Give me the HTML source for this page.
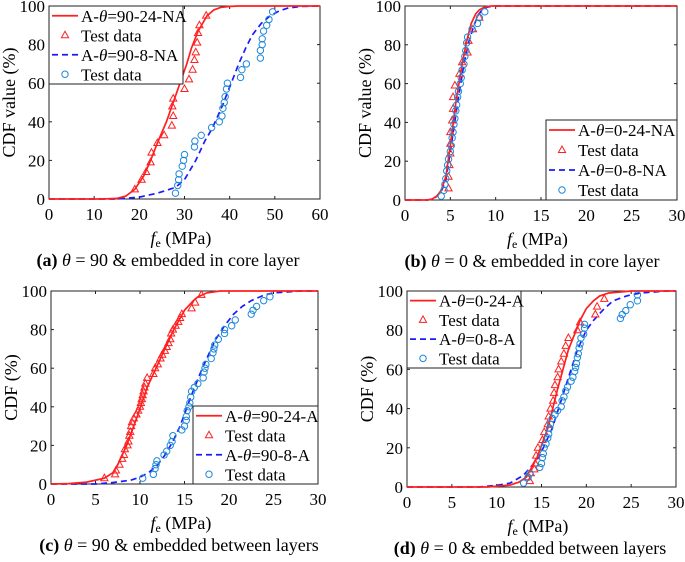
<!DOCTYPE html>
<html><head><meta charset="utf-8"><style>
body{margin:0;background:#fff;width:685px;height:557px;overflow:hidden;font-family:"Liberation Serif","Times New Roman",Times,serif}
svg, svg text, svg tspan{font-family:"Liberation Serif","Times New Roman",Times,serif}
svg text{fill:#000}
</style></head><body>
<svg id="c" width="685" height="557" font-family="'Liberation Serif', 'Times New Roman', Times, serif" xmlns="http://www.w3.org/2000/svg"></svg>
<script>
// ---- Panel (a) data ----
const aRedCurveX=[0,12,15,17,19,21,22.5,24,26,27.5,29,30.5,31.5,33,35,36.5,38,40,42,60];
const aRedCurveY=[0,0,0.3,1.5,5,12,20,29,40,50,60,70,78,87,95,98,99.3,99.8,100,100];
const aBlueCurveX=[0,15,20,24,28,30,31,32.5,34.5,36,37,38.5,39.5,41,42,43.5,45,47,49,51,53,56,60];
const aBlueCurveY=[0,0,1,3,6,10,14,20,30,36,41,49,55,64,70,78,85,91,95,97.5,99,99.8,100];
const aTriX=[19,20.5,21.5,22.5,22.7,24,25.5,27.2,27.5,27.3,27.5,30,31,31.8,32.2,32.5,32.8,33,33.3,34.8];
const aTriY=[5,10,14,19,24,29,33,38,43,48,52,57,62,67,72,76,81,86,90,95];
const aCirX=[28,28.5,28.7,28.8,29.5,29.8,30,32.2,32.3,33.7,36,37.7,38.3,38.5,38.8,39,39.3,39.5,42.4,42.7,43.7,46.8,46.8,47.2,47.2,47.5,48.2,48.7,49.5];
const aCirY=[3,7,10,13,17,20,23,27,30,33,37,40,43,47,50,53,57,60,63,67,70,73,77,80,83,87,90,93,97];
// ---- Panel (b) data ----
const bRedCurveX=[0,2.5,3,3.5,4,4.5,5,5.6,6.3,6.8,7.3,7.8,8.2,8.8,9.5,30];
const bRedCurveY=[0,0,0.5,2,5,12,28,50,70,82,91,96,98,99.5,100,100];
const bBlueCurveX=[0,2.5,3,3.5,4,4.5,5,5.8,6.5,7,7.6,8.1,8.5,9.1,9.8,30];
const bBlueCurveY=[0,0,0.4,1.8,4.5,10,25,50,70,81,90,95.5,98,99.5,100,100];
const bTriX=[4.8,4.8,4.9,5,5,5,5.2,5.3,5.3,5.5,6,6.3,6.9,7,7.5,8.2];
const bTriY=[6,12,18,24,29,35,41,47,53,59,65,71,76,82,88,94];
const bCirX=[4,4.3,4.4,4.5,4.6,4.7,4.8,5,5.1,5.2,5.3,5.4,5.5,5.6,5.7,5.8,5.9,6.1,6.2,6.3,6.5,6.6,6.7,6.8,6.9,7.4,8,8.2,8.8];
const bCirY=[2,5,8,11,15,18,21,25,28,32,35,39,42,46,49,53,56,60,63,67,70,74,77,81,84,88,91,94,97];
// ---- Panel (c) data ----
const cRedCurveX=[0,2,4,6,7,7.5,8.5,9.7,10.8,11.8,12.8,13.8,15,16,16.5,17.5,19,30];
const cRedCurveY=[0,0.2,1,3,6,10,20,35,50,60,70,80,90,95,97,99,100,100];
const cBlueCurveX=[0,5,7,9,10,11,12,12.8,13.7,14.5,15.7,17,17.8,18.5,19.5,20.5,21.5,22.5,24,25,28,30];
const cBlueCurveY=[0,0,0.8,2,3.5,6,10,15,22,30,45,60,68,75,82,88,92,95,98,99,100,100];
const cTriX=[6,7.2,7.3,7.7,8,8.2,8.3,8.6,8.7,8.8,8.9,9,9.1,9.3,9.6,9.8,10,10.1,10.2,10.3,10.4,10.5,10.6,10.8,11.5,11.7,12,12.3,12.5,12.8,13,13.2,13.4,13.5,13.7,14,14.3,14.5,14.7,15.8,16.2,16.9];
const cTriY=[3,5,7,10,13,15,18,20,22,25,27,30,32,34,36,38,40,42,44,46,48,50,52,55,57,60,62,65,67,69,71,73,75,78,80,82,84,86,88,91,94,98];
const cCirX=[10.3,11.5,11.7,11.8,11.9,12.7,13,13.4,13.6,13.7,14.7,15,15.2,15.2,15.3,15.5,15.6,15.7,15.8,16.1,16.5,17.1,17.2,17.3,17.4,18,18.2,18.3,18.4,18.8,19.5,19.5,20.3,20.7,22.5,22.7,23.1,23.9,24.6];
const cCirY=[3,5,8,10,12,15,17,20,22,25,28,30,33,35,38,40,42,45,48,50,52,55,58,60,62,65,68,70,72,75,78,80,82,85,88,90,92,95,97];
// ---- Panel (d) data ----
const dRedCurveX=[0,9,11.5,12.5,13.3,14.5,15.7,16.8,18,19.3,20,20.8,21.5,22.5,25,30];
const dRedCurveY=[0,0,1,2.5,5,15,30,50,70,85,91,95,97.5,99,100,100];
const dBlueCurveX=[0,8,10,11.5,13,14.7,16.2,17.6,19,20,20.8,22,23,24.5,26,29,30];
const dBlueCurveY=[0,0,0.8,2,6,15,30,50,70,80,85,91,95,97.5,99,100,100];
const dTriX=[13.7,13.4,13.8,14.2,14.3,14.4,14.6,15.1,15.3,15.7,15.8,16,16.3,16.4,16.5,16.8,16.9,17.2,17.5,17.7,18,19,19.3,21,21.2,22];
const dTriY=[3,5,7,9,12,16,20,24,28,32,36,40,44,48,52,56,60,64,68,72,76,80,84,88,92,96];
const dCirX=[13,13.5,13.7,14.8,15,15.1,15.2,15.3,15.5,15.7,15.8,15.9,16,16.2,16.5,16.8,17.2,17.3,17.5,17.7,17.9,18.3,18.5,18.7,18.8,18.9,19,19.1,19.2,19.3,19.4,19.7,19.8,19.8,23.8,24,24.4,24.9,25.7,25.7];
const dCirY=[2,5,7,10,12,15,17,20,22,25,27,30,32,35,37,39,41,44,46,49,51,54,56,59,61,63,66,68,71,73,76,78,81,83,86,88,90,93,95,98];
const yTicks=[0,20,40,60,80,100];
const aXTicks=[0,10,20,30,40,50,60];
const bXTicks=[0,5,10,15,20,25,30];

const NS="http://www.w3.org/2000/svg";
const svg=document.getElementById('c');
const FF="'Liberation Serif', 'Times New Roman', Times, serif";
function mk(tag,attrs,parent,txt){const e=document.createElementNS(NS,tag);for(const k in attrs)e.setAttribute(k,attrs[k]);if(tag==='text')e.setAttribute('font-family',FF);if(txt!==undefined)e.textContent=txt;(parent||svg).appendChild(e);return e;}
const RED="#ff1f1f",BLUE="#1a1aff",CYAN="#1e88d8";

function panel(p){
  const g=mk('g',{});
  
  
  const sx=v=>p.L+(v-p.xmin)/(p.xmax-p.xmin)*(p.R-p.L);
  const sy=v=>p.B-v/100*(p.B-p.T);
  const frame=mk('rect',{x:p.L,y:p.T,width:p.R-p.L,height:p.B-p.T,fill:'none',stroke:'#222','stroke-width':1},g);
  
  
  p.xt.forEach(t=>{const x=sx(t);
    mk('line',{x1:x,x2:x,y1:p.B,y2:p.B-3,stroke:'#222'},g);mk('line',{x1:x,x2:x,y1:p.T,y2:p.T+3,stroke:'#222'},g);
    const tx=mk('text',{x:x,y:p.B+21,'font-size':17,'text-anchor':'middle'},g,t);
    
    
  });
  yTicks.forEach(t=>{const y=sy(t);
    mk('line',{x1:p.L,x2:p.L+3,y1:y,y2:y,stroke:'#222'},g);mk('line',{x1:p.R,x2:p.R-3,y1:y,y2:y,stroke:'#222'},g);
    const ty=mk('text',{x:p.L-4,y:y+6,'font-size':17,'text-anchor':'end'},g,t);
    
    
  });
  const xl=mk('text',{x:(p.L+p.R)/2-34,y:p.B+45,'font-size':18},g);
  
  
  mk('tspan',{'font-style':'italic'},xl,'f');
  mk('tspan',{'font-size':12,dy:3},xl,'e');
  mk('tspan',{dy:-3},xl,' (MPa)');
  const yl=mk('text',{x:0,y:0,'font-size':18,'text-anchor':'middle',transform:`translate(${p.L-34},${(p.T+p.B)/2}) rotate(-90)`},g,p.ylab);
  
  
  const cap=mk('text',{x:p.capX,y:p.B+67,'font-size':18,'text-anchor':'middle'},g);
  
  
  mk('tspan',{'font-weight':'bold'},cap,'('+p.id+')');
  mk('tspan',{},cap,p.capGap);
  mk('tspan',{'font-style':'italic'},cap,'θ');
  mk('tspan',{},cap,p.cap);
  const clip=mk('clipPath',{id:'cl'+p.id},g);mk('rect',{x:p.L,y:p.T-1,width:p.R-p.L,height:p.B-p.T+2},clip);
  const line=(xs,ys,col,dash,name)=>{
    const d=xs.map((v,i)=>(i?'L':'M')+sx(v).toFixed(1)+' '+sy(ys[i]).toFixed(1)).join(' ');
    const e=mk('path',{d:d,fill:'none',stroke:col,'stroke-width':1.7,'stroke-dasharray':dash||'none','clip-path':`url(#cl${p.id})`},g);
    
    
  };
  line(p.bx,p.by,BLUE,'6 4','fit-curve-8');
  line(p.rx,p.ry,RED,null,'fit-curve-24');
  p.tx.forEach((v,i)=>{const x=sx(v),y=sy(p.ty[i]);
    const e=mk('path',{d:`M${x} ${y-4}L${x+3.6} ${y+2.5}L${x-3.6} ${y+2.5}Z`,fill:'none',stroke:RED,'stroke-width':1},g);
    
    
  });
  p.cx.forEach((v,i)=>{
    const e=mk('circle',{cx:sx(v),cy:sy(p.cy[i]),r:3.2,fill:'none',stroke:CYAN,'stroke-width':1},g);
    
    
  });
  const lg=p.lg;
  const lgg=mk('g',{},g);
  
  
  mk('rect',{x:lg.x,y:lg.y,width:lg.w,height:lg.h,fill:'#fff',stroke:'#222','stroke-width':1},lgg);
  const rh=lg.h/4;
  p.leg.forEach((lab,i)=>{
    const cy=lg.y+rh*(i+0.5), x0=lg.x+3,x1=lg.x+29,xm=(x0+x1)/2;
    if(i==0)mk('line',{x1:x0,x2:x1,y1:cy,y2:cy,stroke:RED,'stroke-width':1.7},lgg);
    if(i==2)mk('line',{x1:x0,x2:x1,y1:cy,y2:cy,stroke:BLUE,'stroke-width':1.7,'stroke-dasharray':'6 4'},lgg);
    if(i==1)mk('path',{d:`M${xm} ${cy-4}L${xm+3.6} ${cy+2.5}L${xm-3.6} ${cy+2.5}Z`,fill:'none',stroke:RED},lgg);
    if(i==3)mk('circle',{cx:xm,cy:cy,r:3.2,fill:'none',stroke:CYAN},lgg);
    const t=mk('text',{x:x1+3,y:cy+6,'font-size':17},lgg);
    
    
    if(i%2==0){mk('tspan',{},t,'A-');mk('tspan',{'font-style':'italic'},t,'θ');mk('tspan',{},t,lab);}
    else t.textContent=lab;
  });
}
panel({id:'a',L:49,R:320,T:6,B:199,xmin:0,xmax:60,xt:aXTicks,ylab:'CDF value (%)',capX:168,capGap:'   ',cap:' = 90 & embedded in core layer',
  rx:aRedCurveX,ry:aRedCurveY,bx:aBlueCurveX,by:aBlueCurveY,tx:aTriX,ty:aTriY,cx:aCirX,cy:aCirY,
  lg:{x:49,y:6,w:134,h:78},leg:['=90-24-NA','Test data','=90-8-NA','Test data']});
panel({id:'b',L:405,R:677,T:6,B:200,xmin:0,xmax:30,xt:bXTicks,ylab:'CDF value (%)',capX:532,capGap:'   ',cap:' = 0 & embedded in core layer',
  rx:bRedCurveX,ry:bRedCurveY,bx:bBlueCurveX,by:bBlueCurveY,tx:bTriX,ty:bTriY,cx:bCirX,cy:bCirY,
  lg:{x:546,y:120,w:131,h:80},leg:['=0-24-NA','Test data','=0-8-NA','Test data']});
panel({id:'c',L:51,R:318,T:291,B:484,xmin:0,xmax:30,xt:bXTicks,ylab:'CDF (%)',capX:179,capGap:' ',cap:' = 90 & embedded between layers',
  rx:cRedCurveX,ry:cRedCurveY,bx:cBlueCurveX,by:cBlueCurveY,tx:cTriX,ty:cTriY,cx:cCirX,cy:cCirY,
  lg:{x:193,y:406,w:125,h:78},leg:['=90-24-A','Test data','=90-8-A','Test data']});
panel({id:'d',L:407,R:676,T:291,B:487,xmin:0,xmax:30,xt:bXTicks,ylab:'CDF (%)',capX:530,capGap:'  ',cap:' = 0 & embedded between layers',
  rx:dRedCurveX,ry:dRedCurveY,bx:dBlueCurveX,by:dBlueCurveY,tx:dTriX,ty:dTriY,cx:dCirX,cy:dCirY,
  lg:{x:407,y:291,w:114,h:77},leg:['=0-24-A','Test data','=0-8-A','Test data']});
</script>
</body></html>
